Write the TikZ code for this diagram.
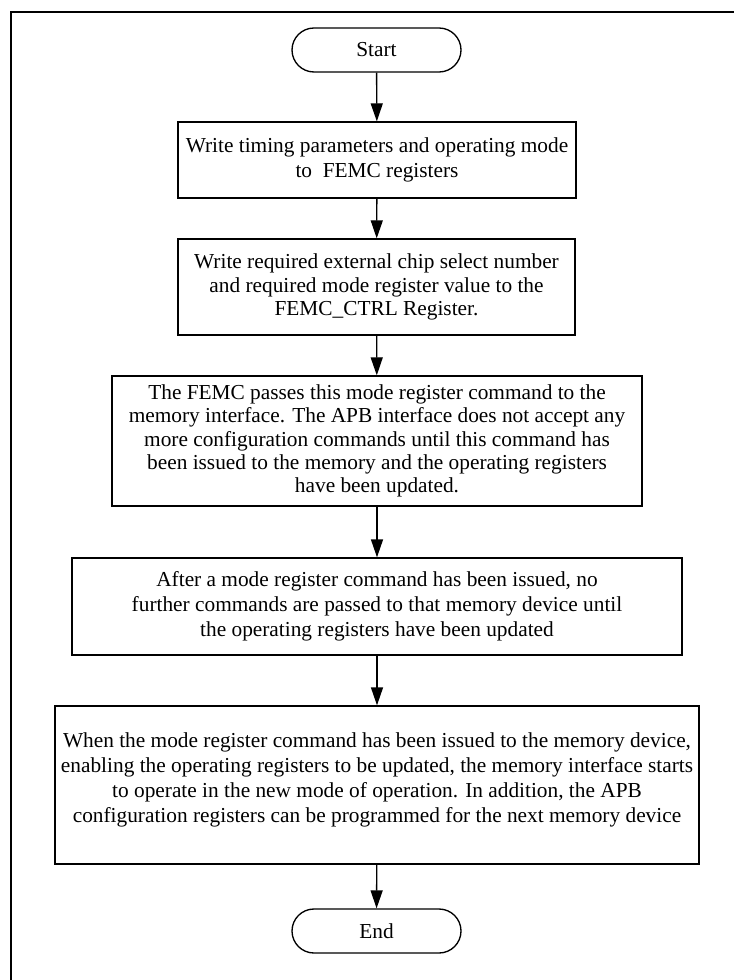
\documentclass[tikz,border=0pt]{standalone}
\usepackage{fontspec}
\setmainfont{Liberation Serif}
\usetikzlibrary{arrows.meta}
\newdimen\pxu \pxu=0.75pt
\begin{document}
\begin{tikzpicture}[x=0.75pt, y=-0.75pt,
  every node/.style={align=center, font=\fontsize{16}{17.5}\selectfont},
  wide/.style={font=\fontsize{16}{18.75}\selectfont},
  box/.style={draw, line width=1pt, inner sep=0pt},
  term/.style={draw, line width=1pt, rounded corners=22\pxu,
    minimum width=169\pxu, minimum height=44\pxu, inner sep=0pt},
  flow/.style={line width=1pt, -{Triangle[length=13.5pt, width=9pt]}}]

\useasboundingbox (0,0) rectangle (734,980);
\clip (0,0) rectangle (734,980);

% outer frame (runs past the page on the right and bottom)
\draw[line width=1pt] (11,12) rectangle (760,1010);

\node[term] (start) at (376.5,50) {Start};

\node[box, wide, minimum width=398\pxu, minimum height=76\pxu] (b1) at (377,160)
  {Write timing parameters and operating mode\\to~ FEMC registers};

\node[box, minimum width=397\pxu, minimum height=96\pxu] (b2) at (376.5,287)
  {Write required external chip select number\\and required mode register value to the\\FEMC\_CTRL Register.};

\node[box, minimum width=530\pxu, minimum height=130\pxu] (b3) at (377,441)
  {The FEMC passes this mode register command to the\\memory interface. The APB interface does not accept any\\more configuration commands until this command has\\been issued to the memory and the operating registers\\have been updated.};

\node[box, wide, minimum width=610\pxu, minimum height=97\pxu] (b4) at (377,606.5)
  {After a mode register command has been issued, no\\further commands are passed to that memory device until\\the operating registers have been updated};

\node[box, minimum width=644\pxu, minimum height=158\pxu,
  label={[wide, yshift=5\pxu]center:{When the mode register command has been issued to the memory device,\\enabling the operating registers to be updated, the memory interface starts\\to operate in the new mode of operation. In addition, the APB\\configuration registers can be programmed for the next memory device}}]
  (b5) at (377,785) {};

\node[term] (end) at (376.5,931) {End};

\draw[flow] (start) -- (b1);
\draw[flow] (b1) -- (b2);
\draw[flow] (b2) -- (b3);
\draw[flow] (b3) -- (b4);
\draw[flow] (b4) -- (b5);
\draw[flow] (b5) -- (end);
\end{tikzpicture}
\end{document}
